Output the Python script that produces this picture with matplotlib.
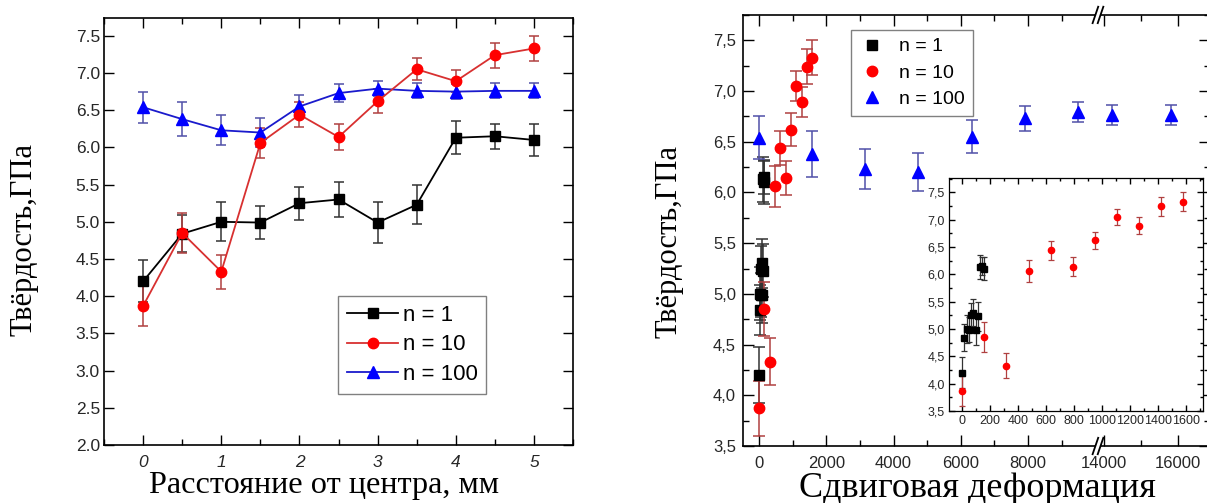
import matplotlib

matplotlib.use("Agg")
import matplotlib.pyplot as plt
import numpy as np
from matplotlib.lines import Line2D
from matplotlib.patches import Rectangle
from matplotlib.ticker import FixedLocator, FuncFormatter, MultipleLocator

# hardness profile across the disc, three numbers of turns
RADIUS_MM = [0, 0.5, 1, 1.5, 2, 2.5, 3, 3.5, 4, 4.5, 5]

HV_N1 = [4.20, 4.84, 5.00, 4.99, 5.25, 5.30, 4.99, 5.23, 6.13, 6.15, 6.10]
ERR_N1 = [0.28, 0.25, 0.26, 0.22, 0.22, 0.24, 0.28, 0.26, 0.22, 0.17, 0.21]
HV_N10 = [3.87, 4.85, 4.33, 6.06, 6.44, 6.14, 6.62, 7.05, 6.89, 7.24, 7.33]
ERR_N10 = [0.27, 0.27, 0.23, 0.20, 0.17, 0.17, 0.16, 0.15, 0.15, 0.17, 0.17]
HV_N100 = [6.54, 6.38, 6.23, 6.20, 6.55, 6.73, 6.79, 6.76, 6.75, 6.76, 6.76]
ERR_N100 = [0.21, 0.23, 0.20, 0.19, 0.16, 0.12, 0.10, 0.10, 0.10, 0.10, 0.10]

# shear strain at the same radii
STRAIN_N1 = [0, 16, 32, 47, 63, 79, 95, 111, 126, 142, 158]
STRAIN_N10 = [0, 158, 316, 474, 632, 790, 948, 1106, 1264, 1422, 1580]
STRAIN_N100 = [0, 1580, 3160, 4740, 6320, 7900, 9480, 11060, 12640, 14220, 15800]

LABELS = ["n = 1", "n = 10", "n = 100"]

# broken strain axis: 10060..13810 is cut out, the right part is a bit stretched
BREAK_LO = 10060
BREAK_HI = 13810
STRETCH = 1.10

SANS = "Liberation Sans"
SERIF = "Liberation Serif"
TICK_COLOR = "#262626"


def squeeze(x):
    x = np.asarray(x, dtype=float)
    return np.where(x <= BREAK_LO, x, np.where(x >= BREAK_HI, BREAK_LO + (x - BREAK_HI) * STRETCH, BREAK_LO))


def unsqueeze(y):
    y = np.asarray(y, dtype=float)
    return np.where(y <= BREAK_LO, y, BREAK_HI + (y - BREAK_LO) / STRETCH)


def comma(value, _pos):
    return f"{value:.1f}".replace(".", ",")


def style_ticks(ax, size, major=7, minor=4):
    for spine in ax.spines.values():
        spine.set_linewidth(1.2)
    ax.tick_params(which="both", top=True, right=True, direction="in", width=1.0,
                   labelsize=size, labelcolor=TICK_COLOR)
    ax.tick_params(which="major", length=major)
    ax.tick_params(which="minor", length=minor)
    for label in ax.get_xticklabels() + ax.get_yticklabels():
        label.set_fontfamily(SANS)


SERIES = [
    # values, errors, strain, marker colour, line colour, error colour, marker, size
    (HV_N1, ERR_N1, STRAIN_N1, "#000000", "#000000", "#333333", "s", 7.0),
    (HV_N100, ERR_N100, STRAIN_N100, "#0000ff", "#1a1acc", "#5050a8", "^", 8.0),
    (HV_N10, ERR_N10, STRAIN_N10, "#ff0000", "#d83030", "#b04040", "o", 7.5),
]

fig = plt.figure(figsize=(12.07, 5.03), dpi=100)

# ---- left: hardness vs radius ----
ax = fig.add_axes([0.0862, 0.1153, 0.3886, 0.849])
handles = {}
for vals, errs, _strain, mcolor, lcolor, ecolor, marker, ms in SERIES:
    ax.errorbar(RADIUS_MM, vals, yerr=errs, color=lcolor, ecolor=ecolor, elinewidth=1.1,
                capsize=3.5, capthick=1.1, lw=1.3, marker=marker, ms=ms, mfc=mcolor, mec=mcolor, zorder=3)
    handles[marker] = Line2D([], [], color=lcolor, lw=1.3, marker=marker, ms=ms, mfc=mcolor, mec=mcolor)
ax.set_xlim(-0.5, 5.5)
ax.set_ylim(2.0, 7.74)
ax.xaxis.set_major_locator(MultipleLocator(1))
ax.xaxis.set_minor_locator(MultipleLocator(0.5))
ax.yaxis.set_major_locator(MultipleLocator(0.5))
ax.yaxis.set_major_formatter(FuncFormatter(lambda v, _p: f"{v:.1f}"))
style_ticks(ax, 12.5, major=7, minor=4)
ax.tick_params(axis="y", pad=3)
ax.tick_params(axis="x", pad=7)
for label in ax.get_xticklabels():
    label.set_fontstyle("italic")
leg = ax.legend([handles["s"], handles["o"], handles["^"]], LABELS, loc="upper left",
                bbox_to_anchor=(0.499, 0.349), borderaxespad=0, fancybox=False, framealpha=1,
                edgecolor="#808080", prop={"family": SANS, "size": 16}, labelspacing=0.38,
                handlelength=2.3, handletextpad=0.2, borderpad=0.4)
leg.get_frame().set_linewidth(1.0)

fig.text(0.0199, 0.523, "Твёрдость,ГПа", rotation=90, ha="center", va="center", family=SERIF, fontsize=22)
fig.text(0.2685, 0.02, "Расстояние от центра, мм", ha="center", va="baseline", family=SERIF, fontsize=23.2)

# ---- right: hardness vs shear strain (broken x axis) ----
ax2 = fig.add_axes([0.6156, 0.1133, 0.3866, 0.857])
ax2.set_xscale("function", functions=(squeeze, unsqueeze))
for vals, errs, strain, mcolor, lcolor, ecolor, marker, ms in SERIES:
    strain = np.asarray(strain, dtype=float)
    keep = (strain <= BREAK_LO) | (strain >= BREAK_HI)
    ax2.errorbar(strain[keep], np.asarray(vals)[keep], yerr=np.asarray(errs)[keep], ls="none",
                 ecolor=ecolor, elinewidth=1.1, capsize=4, capthick=1.1, marker=marker, ms=ms,
                 mfc=mcolor, mec=mcolor, zorder=3)
X_MIN, X_MAX = -480, 16850
ax2.set_xlim(X_MIN, X_MAX)
ax2.set_ylim(3.5, 7.75)
ax2.xaxis.set_major_locator(FixedLocator([0, 2000, 4000, 6000, 8000, 14000, 16000]))
ax2.xaxis.set_minor_locator(FixedLocator([1000, 3000, 5000, 7000, 9000, 15000]))
ax2.xaxis.set_major_formatter(FuncFormatter(lambda v, _p: f"{v:.0f}"))
ax2.yaxis.set_major_locator(MultipleLocator(0.5))
ax2.yaxis.set_minor_locator(MultipleLocator(0.25))
ax2.yaxis.set_major_formatter(FuncFormatter(comma))
style_ticks(ax2, 12, major=8, minor=4)
ax2.tick_params(axis="x", pad=7)
ax2.tick_params(axis="y", pad=5)

leg2 = ax2.legend(
    [Line2D([], [], ls="none", marker=m, ms=s, mfc=c, mec=c) for m, s, c in
     [("s", 7.0, "#000000"), ("o", 7.5, "#ff0000"), ("^", 8.0, "#0000ff")]],
    LABELS, loc="upper left", bbox_to_anchor=(0.231, 0.965), borderaxespad=0, fancybox=False,
    framealpha=1, edgecolor="#808080", prop={"family": SANS, "size": 14}, labelspacing=0.45,
    handlelength=1.4, handletextpad=0.7, borderpad=0.4)
leg2.get_frame().set_linewidth(1.0)

# "//" marks where the strain axis is cut
lo, hi = squeeze([X_MIN, X_MAX])
xb = (squeeze(BREAK_LO) - lo) / (hi - lo)
for yb in (0.0, 1.0):
    ax2.add_patch(Rectangle((xb - 0.005, yb - 0.006), 0.012, 0.012, transform=ax2.transAxes,
                            facecolor="white", edgecolor="none", clip_on=False, zorder=5))
    for dx in (-0.004, 0.007):
        ax2.plot([xb + dx - 0.006, xb + dx + 0.006], [yb - 0.019, yb + 0.019], color="black",
                 lw=1.3, transform=ax2.transAxes, clip_on=False, zorder=6)

fig.text(0.5543, 0.52, "Твёрдость,ГПа", rotation=90, ha="center", va="center", family=SERIF, fontsize=22)
fig.text(0.8094, 0.012, "Сдвиговая деформация", ha="center", va="baseline", family=SERIF, fontsize=26)

# ---- inset: low-strain part ----
ins = fig.add_axes([0.7862, 0.1829, 0.2104, 0.4632])
for vals, errs, strain, mcolor, lcolor, ecolor, marker, ms in SERIES:
    if marker == "^":
        continue
    ins.errorbar(strain, vals, yerr=errs, ls="none", ecolor=ecolor, elinewidth=0.9, capsize=2,
                 capthick=0.9, marker=marker, ms=4.5, mfc=mcolor, mec=mcolor, zorder=3)
ins.set_xlim(-95, 1720)
ins.set_ylim(3.5, 7.76)
ins.xaxis.set_major_locator(MultipleLocator(200))
ins.xaxis.set_minor_locator(MultipleLocator(100))
ins.yaxis.set_major_locator(MultipleLocator(0.5))
ins.yaxis.set_minor_locator(MultipleLocator(0.25))
ins.yaxis.set_major_formatter(FuncFormatter(comma))
style_ticks(ins, 9, major=4, minor=2)
for spine in ins.spines.values():
    spine.set_linewidth(0.9)
ins.tick_params(axis="both", pad=3)

fig.savefig("out.png", dpi=100)
